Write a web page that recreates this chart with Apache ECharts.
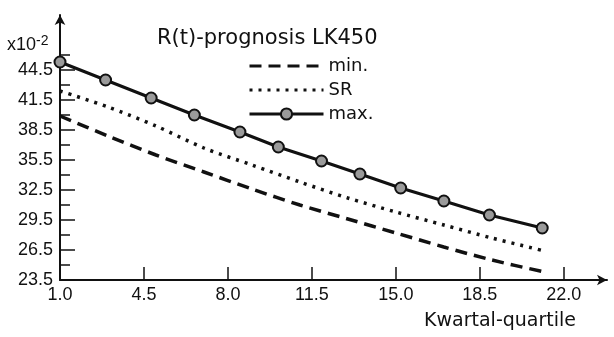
<!DOCTYPE html>
<html>
<head>
<meta charset="utf-8">
<script src="https://cdn.jsdelivr.net/npm/echarts@6/dist/echarts.min.js"></script>
<style>
  html, body { margin: 0; padding: 0; background: #fff; }
  #chart { width: 614px; height: 337px; }
</style>
</head>
<body>
<div id="chart"></div>
<script>
// values (x10^-2)
const quarters = [1, 3, 5, 7, 9, 11, 13, 15, 17, 19, 21.2];
const minValues = [39.9, 37.9, 36.0, 34.3, 32.6, 31.0, 29.6, 28.2, 26.8, 25.5, 24.3];
const srValues = [42.4, 40.8, 38.9, 36.7, 35.0, 33.3, 31.7, 30.3, 29.0, 27.7, 26.4];
const maxQuarters = [1.0, 2.9, 4.8, 6.6, 8.5, 10.1, 11.9, 13.5, 15.2, 17.0, 18.9, 21.1];
const maxValues = [45.3, 43.5, 41.7, 40.0, 38.3, 36.8, 35.4, 34.1, 32.7, 31.4, 30.0, 28.7];
const xTicks = [1.0, 4.5, 8.0, 11.5, 15.0, 18.5, 22.0];
const yLabels = [23.5, 26.5, 29.5, 32.5, 35.5, 38.5, 41.5, 44.5];
const yMinorTicks = [25.0, 28.0, 31.0, 34.0, 37.0, 40.0, 43.0, 46.0];

const ink = '#111';
const font = 'Liberation Sans';
const wide = 'DejaVu Sans';

function pairs(xs, ys) {
  return xs.map((x, i) => [x, ys[i]]);
}

let myChart = echarts.init(document.getElementById('chart'));

let options = {
  animation: false,
  title: {
    text: 'R(t)-prognosis LK450',
    left: 157,
    top: 28,
    padding: 0,
    textStyle: { fontFamily: wide, fontSize: 21, fontWeight: 'normal', color: ink }
  },
  legend: {
    orient: 'vertical',
    left: 248,
    top: 57,
    padding: 0,
    itemWidth: 74,
    itemHeight: 14,
    itemGap: 6,
    lineStyle: { width: 3 },
    textStyle: { fontFamily: wide, fontSize: 18, lineHeight: 14, color: ink },
    data: [
      { name: 'min.', itemStyle: { opacity: 0 } },
      { name: 'SR', itemStyle: { opacity: 0 } },
      'max.'
    ]
  },
  graphic: [
    {
      type: 'text',
      left: 7,
      top: 34,
      style: {
        text: '{a|x10}{b|-2}',
        rich: {
          a: { fontFamily: font, fontSize: 18, fill: ink },
          b: { fontFamily: font, fontSize: 14, fill: ink, verticalAlign: 'top', padding: [0, 0, 8, 0] }
        }
      }
    },
    {
      type: 'text',
      right: 38,
      top: 312,
      style: { text: 'Kwartal-quartile', fontFamily: wide, fontSize: 19, fill: ink }
    }
  ],
  grid: { left: 60, right: 7, top: 15, bottom: 57 },
  xAxis: {
    type: 'value',
    min: 1,
    max: 23.8,
    splitLine: { show: false },
    axisLine: { lineStyle: { color: ink, width: 2 }, symbol: ['none', 'arrow'], symbolSize: [8, 10] },
    axisTick: { inside: true, length: 13, customValues: xTicks, lineStyle: { color: ink, width: 1.5 } },
    axisLabel: {
      customValues: xTicks,
      formatter: v => v.toFixed(1),
      margin: 6,
      fontFamily: font, fontSize: 18, color: ink
    }
  },
  yAxis: [
    {
      type: 'value',
      min: 23.5,
      max: 50,
      splitLine: { show: false },
      axisLine: { lineStyle: { color: ink, width: 2 }, symbol: ['none', 'arrow'], symbolSize: [8, 10] },
      axisTick: { inside: true, length: 15, customValues: yLabels, lineStyle: { color: ink, width: 1.5 } },
      axisLabel: {
        customValues: yLabels,
        formatter: v => v.toFixed(1),
        margin: 7,
        fontFamily: font, fontSize: 18, color: ink
      }
    },
    {
      type: 'value',
      min: 23.5,
      max: 50,
      position: 'left',
      splitLine: { show: false },
      axisLine: { show: false },
      axisTick: { inside: true, length: 10, customValues: yMinorTicks, lineStyle: { color: ink, width: 1.5 } },
      axisLabel: { show: false }
    }
  ],
  series: [
    {
      name: 'min.',
      type: 'line',
      smooth: 0.3,
      symbol: 'none',
      lineStyle: { color: ink, width: 3.5, type: [12, 7] },
      itemStyle: { color: ink },
      data: pairs(quarters, minValues)
    },
    {
      name: 'SR',
      type: 'line',
      smooth: 0.3,
      symbol: 'none',
      lineStyle: { color: ink, width: 3.5, type: [3, 6] },
      itemStyle: { color: ink },
      data: pairs(quarters, srValues)
    },
    {
      name: 'max.',
      type: 'line',
      symbol: 'circle',
      symbolSize: 11,
      lineStyle: { color: ink, width: 3 },
      itemStyle: { color: '#9a9a9a', borderColor: ink, borderWidth: 2 },
      data: pairs(maxQuarters, maxValues)
    }
  ]
};

myChart.setOption(options);
</script>
</body>
</html>
